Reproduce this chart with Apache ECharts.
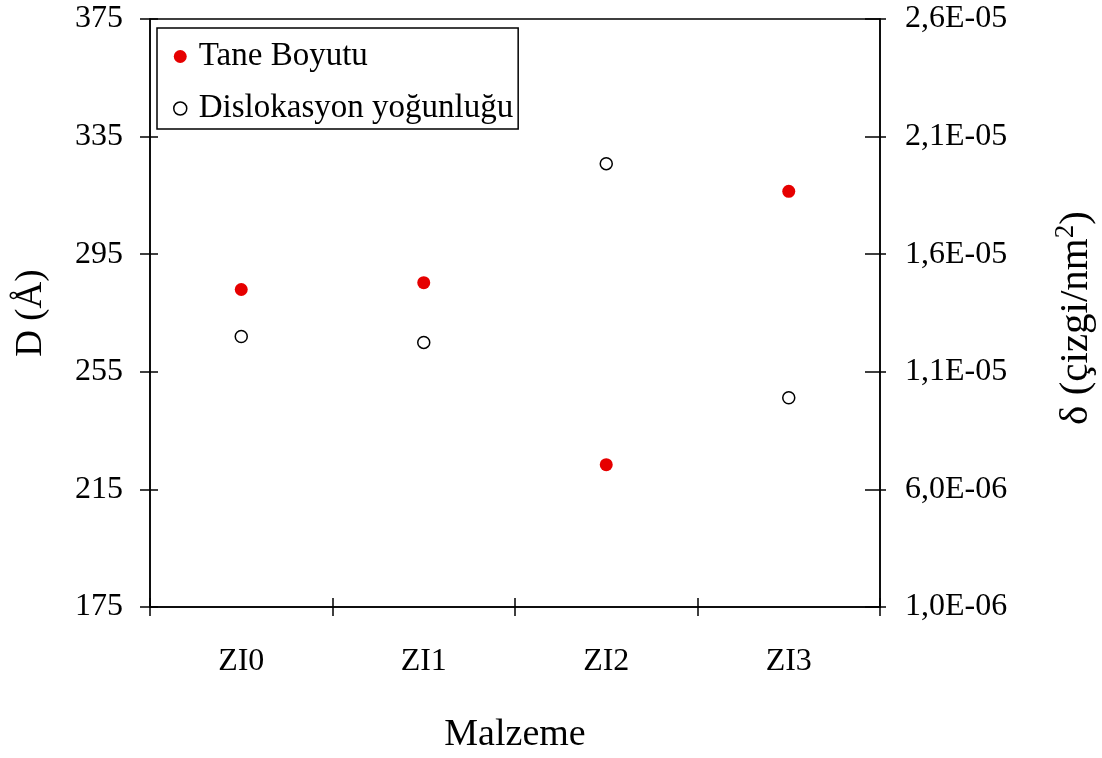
<!DOCTYPE html>
<html>
<head>
<meta charset="utf-8">
<script src="https://cdn.jsdelivr.net/npm/echarts@6/dist/echarts.min.js"></script>
<style>
  html, body { margin: 0; padding: 0; background: #fff; }
  #chart { width: 1102px; height: 758px; }
</style>
</head>
<body>
<div id="chart"></div>
<script>
// Materials on the x axis
const categories = ['ZI0', 'ZI1', 'ZI2', 'ZI3'];
// Grain size D (Å), left axis
const taneBoyutu = [283, 285.3, 223.4, 316.4];
// Dislocation density δ (lines/nm²), right axis
const dislokasyon = [1.25e-5, 1.225e-5, 1.985e-5, 9.9e-6];
// Tick values of both value axes
const leftTicks = [175, 215, 255, 295, 335, 375];
const rightTicks = [1.0e-6, 6.0e-6, 1.1e-5, 1.6e-5, 2.1e-5, 2.6e-5];

const FONT = "'Liberation Serif', 'Times New Roman', serif";
const INK = '#000';
const RED = '#e60000';

// 2.6e-5 -> "2,6E-05"
function sciComma(v) {
  const parts = v.toExponential(1).split('e');
  const exp = parseInt(parts[1], 10);
  return parts[0].replace('.', ',') + 'E' + (exp < 0 ? '-' : '+') + String(Math.abs(exp)).padStart(2, '0');
}

const lineStyle = { color: INK, width: 1.5 };

const chart = echarts.init(document.getElementById('chart'), null, { renderer: 'canvas' });
chart.setOption({
  backgroundColor: '#fff',
  animation: false,
  textStyle: { fontFamily: FONT, color: INK },
  grid: {
    left: 150, right: 222, top: 19, bottom: 151,
    show: true, borderColor: INK, borderWidth: 1.5,
    containLabel: false, outerBoundsMode: 'none'
  },
  legend: {
    orient: 'vertical',
    left: 157, top: 28,
    padding: [12, 5, 4, 16],
    itemGap: 19,
    itemWidth: 27, itemHeight: 13,
    borderColor: INK, borderWidth: 1.5,
    backgroundColor: '#fff',
    textStyle: { fontFamily: FONT, fontSize: 33, color: INK },
    data: [
      { name: 'Tane Boyutu', icon: 'circle', itemStyle: { color: RED, borderWidth: 0 } },
      { name: 'Dislokasyon yoğunluğu', icon: 'circle', itemStyle: { color: '#fff', borderColor: INK, borderWidth: 1.5 } }
    ]
  },
  xAxis: [
    {
      type: 'category', data: categories, boundaryGap: true, position: 'bottom',
      axisLine: { show: true, lineStyle },
      axisTick: { show: true, inside: false, length: 9, interval: 0, lineStyle },
      axisLabel: { fontFamily: FONT, fontSize: 32, color: INK, margin: 39 },
      splitLine: { show: false },
      name: 'Malzeme', nameLocation: 'middle', nameGap: 109,
      nameTextStyle: { fontFamily: FONT, fontSize: 38, color: INK }
    },
    {
      type: 'category', data: categories, boundaryGap: true, position: 'bottom',
      axisLine: { show: false },
      axisTick: { show: true, inside: true, length: 9, interval: 0, lineStyle },
      axisLabel: { show: false },
      splitLine: { show: false }
    }
  ],
  yAxis: [
    {
      type: 'value', position: 'left', min: 175, max: 375,
      axisLine: { show: true, lineStyle },
      axisTick: { show: true, inside: false, length: 10, customValues: leftTicks, lineStyle },
      axisLabel: { fontFamily: FONT, fontSize: 32, color: INK, margin: 27, customValues: leftTicks },
      splitLine: { show: false },
      name: 'D (Å)', nameLocation: 'middle', nameRotate: 90, nameGap: 100,
      nameTextStyle: { fontFamily: FONT, fontSize: 37, color: INK }
    },
    {
      type: 'value', position: 'left', min: 175, max: 375,
      axisLine: { show: false },
      axisTick: { show: true, inside: true, length: 8, customValues: leftTicks, lineStyle },
      axisLabel: { show: false },
      splitLine: { show: false }
    },
    {
      type: 'value', position: 'right', min: 1.0e-6, max: 2.6e-5,
      axisLine: { show: true, lineStyle },
      axisTick: { show: true, inside: false, length: 6, customValues: rightTicks, lineStyle },
      axisLabel: {
        fontFamily: FONT, fontSize: 32, color: INK, margin: 25,
        customValues: rightTicks, formatter: sciComma
      },
      splitLine: { show: false },
      name: '{t|δ (çizgi/nm}{s|2}{t|)}', nameLocation: 'middle', nameRotate: 90, nameGap: 172,
      nameTextStyle: {
        fontFamily: FONT, fontSize: 41, color: INK,
        padding: [0, 10, 0, 0],
        rich: {
          t: { fontFamily: FONT, fontSize: 41, color: INK, lineHeight: 48 },
          s: { fontFamily: FONT, fontSize: 27, color: INK, lineHeight: 26, verticalAlign: 'top' }
        }
      }
    },
    {
      type: 'value', position: 'right', min: 1.0e-6, max: 2.6e-5,
      axisLine: { show: false },
      axisTick: { show: true, inside: true, length: 15, customValues: rightTicks, lineStyle },
      axisLabel: { show: false },
      splitLine: { show: false }
    }
  ],
  series: [
    {
      name: 'Tane Boyutu', type: 'scatter', xAxisIndex: 0, yAxisIndex: 0,
      data: taneBoyutu, symbol: 'circle', symbolSize: 13,
      itemStyle: { color: RED, opacity: 1 }
    },
    {
      name: 'Dislokasyon yoğunluğu', type: 'scatter', xAxisIndex: 0, yAxisIndex: 2,
      data: dislokasyon, symbol: 'circle', symbolSize: 12,
      itemStyle: { color: '#fff', borderColor: INK, borderWidth: 1.5, opacity: 1 }
    }
  ]
});
</script>
</body>
</html>
